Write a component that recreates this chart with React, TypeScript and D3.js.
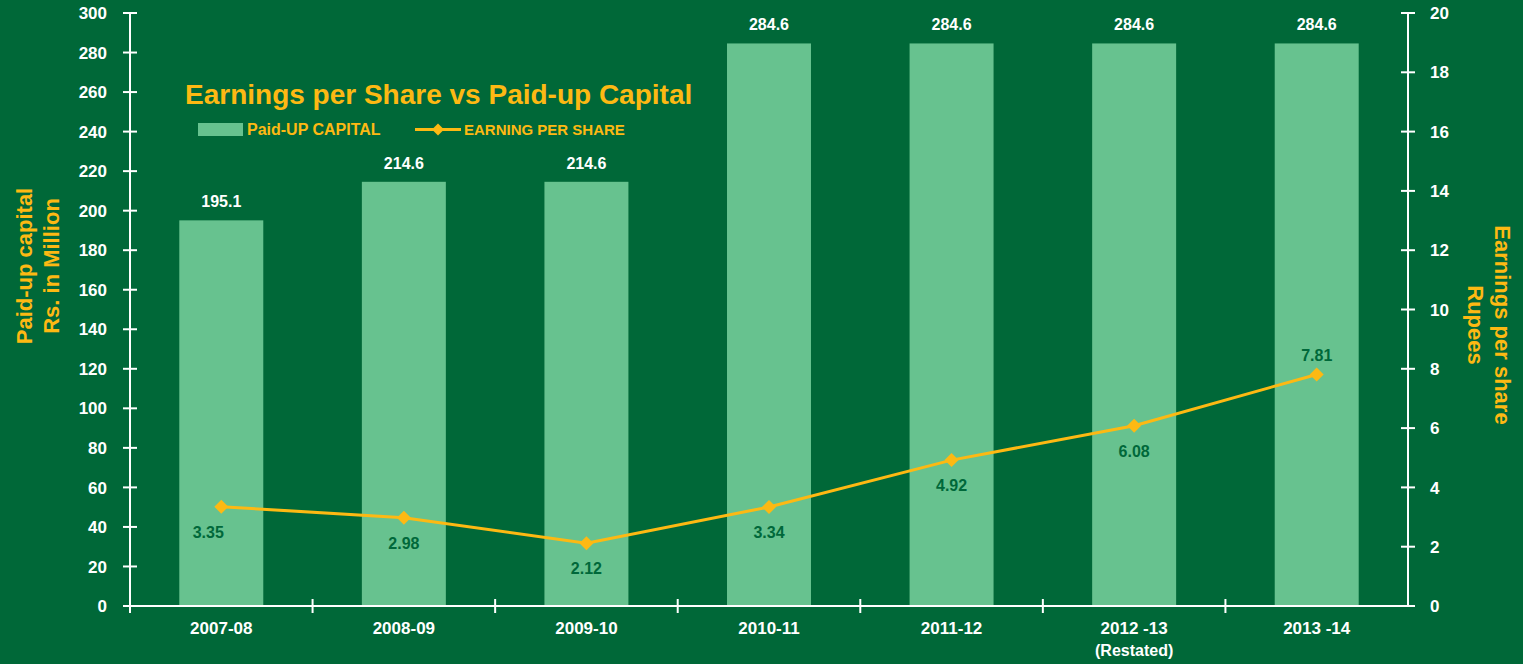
import React from "react";
import * as d3 from "d3";

const categories = ["2007-08", "2008-09", "2009-10", "2010-11", "2011-12", "2012 -13", "2013 -14"];
const subLabels = ["", "", "", "", "", "(Restated)", ""];
const paidUpCapital = [195.1, 214.6, 214.6, 284.6, 284.6, 284.6, 284.6];
const eps = [3.35, 2.98, 2.12, 3.34, 4.92, 6.08, 7.81];
const leftTicks = d3.range(0, 301, 20);
const rightTicks = d3.range(0, 21, 2);

const W = 1523, H = 664;
const BG = "#006838";
const BAR = "#67C28F";
const ORANGE = "#FDB913";
const DARK = "#00683A";
const FONT = "'Liberation Sans', Arial, sans-serif";

export default function App() {
  const x0 = 130, x1 = 1408, yTop = 13, yBot = 606;
  const x = d3.scaleBand<string>().domain(categories).range([x0, x1]).paddingInner(0.54).paddingOuter(0.27);
  const band = d3.scaleBand<string>().domain(categories).range([x0, x1]);
  const yL = d3.scaleLinear().domain([0, 300]).range([yBot, yTop]);
  const yR = d3.scaleLinear().domain([0, 20]).range([yBot, yTop]);
  const cx = (c: string) => (band(c) as number) + band.bandwidth() / 2;
  const line = d3.line<number>().x((_, i) => cx(categories[i])).y((d) => yR(d));
  const diamond = (px: number, py: number, r: number) =>
    `M${px},${py - r}L${px + r},${py}L${px},${py + r}L${px - r},${py}Z`;

  return (
    <div style={{ position: "fixed", left: 0, top: 0 }}>
      <svg width={W} height={H} style={{ display: "block", fontFamily: FONT }}>
        <rect width={W} height={H} fill={BG} />
        {/* bars */}
        {categories.map((c, i) => (
          <rect key={c} x={x(c)} y={yL(paidUpCapital[i])} width={x.bandwidth()} height={yBot - yL(paidUpCapital[i])} fill={BAR} />
        ))}
        {/* bar labels */}
        {categories.map((c, i) => (
          <text key={c} x={cx(c)} y={yL(paidUpCapital[i]) - 13} textAnchor="middle" fill="#fff" fontWeight="bold" fontSize={16}>
            {paidUpCapital[i].toFixed(1)}
          </text>
        ))}
        {/* left axis */}
        <line x1={x0} x2={x0} y1={yTop} y2={yBot} stroke="#fff" strokeWidth={2} />
        {leftTicks.map((t) => (
          <g key={t}>
            <line x1={x0 - 7} x2={x0 + 7} y1={yL(t)} y2={yL(t)} stroke="#fff" strokeWidth={2} />
            <text x={107} y={yL(t)} dy="0.36em" textAnchor="end" fill="#fff" fontWeight="bold" fontSize={17}>{t}</text>
          </g>
        ))}
        {/* right axis */}
        <line x1={x1} x2={x1} y1={yTop} y2={yBot} stroke="#fff" strokeWidth={2} />
        {rightTicks.map((t) => (
          <g key={t}>
            <line x1={x1 - 7} x2={x1 + 7} y1={yR(t)} y2={yR(t)} stroke="#fff" strokeWidth={2} />
            <text x={1430} y={yR(t)} dy="0.36em" textAnchor="start" fill="#fff" fontWeight="bold" fontSize={17}>{t}</text>
          </g>
        ))}
        {/* x axis */}
        <line x1={x0} x2={x1} y1={yBot} y2={yBot} stroke="#fff" strokeWidth={2} />
        {categories.map((c) => (
          <line key={c} x1={band(c) as number} x2={band(c) as number} y1={yBot - 7} y2={yBot + 7} stroke="#fff" strokeWidth={2} />
        ))}
        {categories.map((c, i) => (
          <g key={c}>
            <text x={cx(c)} y={634} textAnchor="middle" fill="#fff" fontWeight="bold" fontSize={17}>{c}</text>
            {subLabels[i] && (
              <text x={cx(c)} y={656} textAnchor="middle" fill="#fff" fontWeight="bold" fontSize={16}>{subLabels[i]}</text>
            )}
          </g>
        ))}
        {/* EPS line */}
        <path d={line(eps) as string} fill="none" stroke={ORANGE} strokeWidth={3} />
        {eps.map((v, i) => (
          <path key={i} d={diamond(cx(categories[i]), yR(v), 7)} fill={ORANGE} />
        ))}
        {eps.map((v, i) => {
          const last = i === eps.length - 1;
          const dx = i === 0 ? -13 : 0;
          return (
            <text key={i} x={cx(categories[i]) + dx} y={last ? yR(v) - 13 : yR(v) + 31} textAnchor="middle" fill={DARK} fontWeight="bold" fontSize={16}>
              {v.toFixed(2)}
            </text>
          );
        })}
        {/* title */}
        <text x={185} y={104} fill={ORANGE} fontWeight="bold" fontSize={28}>Earnings per Share vs Paid-up Capital</text>
        {/* legend */}
        <rect x={198} y={123} width={45} height={13} fill={BAR} />
        <text x={247} y={135} fill={ORANGE} fontWeight="bold" fontSize={16}>Paid-UP CAPITAL</text>
        <line x1={415} x2={461} y1={129.5} y2={129.5} stroke={ORANGE} strokeWidth={3} />
        <path d={diamond(438, 129.5, 6)} fill={ORANGE} />
        <text x={464} y={135} fill={ORANGE} fontWeight="bold" fontSize={15}>EARNING PER SHARE</text>
        {/* axis titles */}
        <g transform="translate(32,266) rotate(-90)">
          <text textAnchor="middle" fill={ORANGE} fontWeight="bold" fontSize={22}>Paid-up capital</text>
          <text y={27} textAnchor="middle" fill={ORANGE} fontWeight="bold" fontSize={22}>Rs. in Million</text>
        </g>
        <g transform="translate(1495,325) rotate(90)">
          <text textAnchor="middle" fill={ORANGE} fontWeight="bold" fontSize={22}>Earnings per share</text>
          <text y={27} textAnchor="middle" fill={ORANGE} fontWeight="bold" fontSize={22}>Rupees</text>
        </g>
      </svg>
    </div>
  );
}
